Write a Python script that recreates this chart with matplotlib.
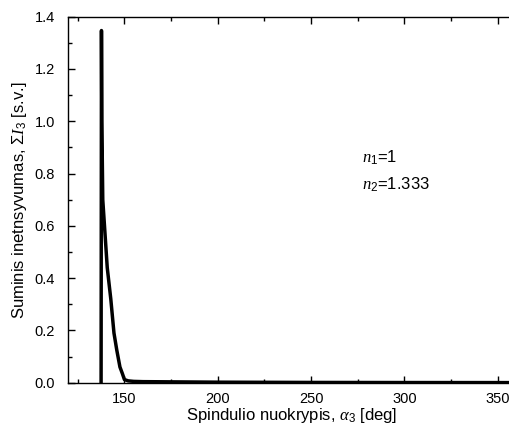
import matplotlib
matplotlib.use("Agg")
import matplotlib.pyplot as plt
from matplotlib.ticker import MultipleLocator

plt.rcParams['font.family'] = ['Liberation Sans', 'DejaVu Sans']
plt.rcParams['mathtext.fontset'] = 'custom'
plt.rcParams['mathtext.rm'] = 'Liberation Sans'
plt.rcParams['mathtext.it'] = 'Liberation Serif:italic'

angle = [137.5, 137.7, 137.9, 138.4, 139.6, 140.8, 142.7, 144.4, 145.9, 147.6, 148.9,
         150.0, 152.0, 155.0, 160.0, 180.0, 200.0, 250.0, 300.0, 350.0, 360.0]
intensity = [0.0, 1.347, 1.0, 0.70, 0.57, 0.44, 0.32, 0.19, 0.125, 0.06, 0.035,
             0.012, 0.007, 0.005, 0.004, 0.003, 0.002, 0.001, 0.0006, 0.0004, 0.0003]

x_major = [150, 200, 250, 300, 350]
y_major = [0.0, 0.2, 0.4, 0.6, 0.8, 1.0, 1.2, 1.4]

fig = plt.figure(figsize=(5.09, 4.34), dpi=100)
ax = fig.add_axes([67.5/509, 1 - 382.7/434, 448.8/509, (382.7 - 16.7)/434])
ax.plot(angle, intensity, color='black', lw=2.5)
ax.set_xlim(119.5, 360)
ax.set_ylim(0, 1.4)
ax.set_xticks(x_major)
ax.set_yticks(y_major)
ax.set_yticklabels([f"{v:.1f}" for v in y_major])
ax.xaxis.set_minor_locator(MultipleLocator(25))
ax.yaxis.set_minor_locator(MultipleLocator(0.1))
ax.tick_params(which='both', direction='in', top=True, right=True, labelsize=10.5, width=1)
ax.tick_params(which='major', length=5)
ax.tick_params(which='minor', length=3)
ax.tick_params(axis='y', which='major', pad=9)
ax.tick_params(axis='x', which='major', pad=7)
for s in ax.spines.values():
    s.set_linewidth(1)
ax.set_xlabel(r"Spindulio nuokrypis, $\alpha_3$ [deg]", fontsize=12, labelpad=0)
ax.set_ylabel(r"Suminis inetnsyvumas, $\Sigma I_3$ [s.v.]", fontsize=12, labelpad=4)
ax.text(277.5, 0.86, r"$n_1$=1", fontsize=12, va='center')
ax.text(277.5, 0.757, r"$n_2$=1.333", fontsize=12, va='center')
fig.savefig("out.png", dpi=100)
